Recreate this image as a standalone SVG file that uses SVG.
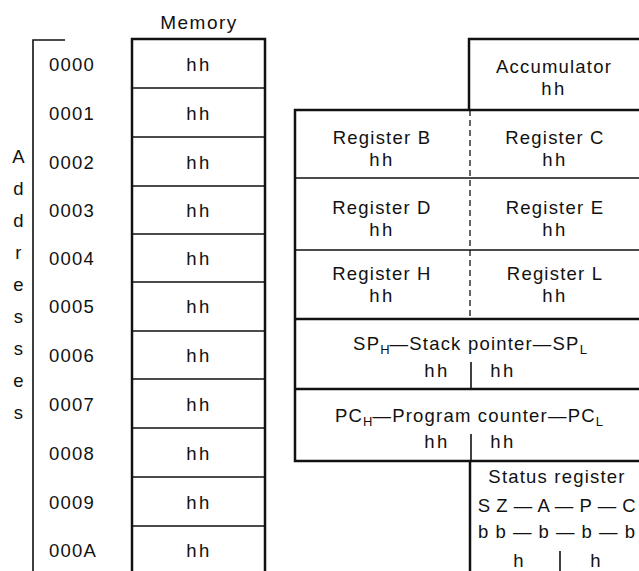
<svg xmlns="http://www.w3.org/2000/svg" width="639" height="571" viewBox="0 0 639 571">
<style>
text,tspan{font-family:"Liberation Sans",Arial,sans-serif;fill:#111}
text{font-size:18.5px;letter-spacing:1.2px}
.c{text-anchor:middle}
.hh{letter-spacing:2.5px}
.sub{font-size:13px;letter-spacing:0}
.thick{stroke:#111;stroke-width:2.5;fill:none}
.thin{stroke:#111;stroke-width:1.6;fill:none}
.dash{stroke:#111;stroke-width:1.3;stroke-dasharray:6 4;fill:none}
</style>
<rect width="639" height="571" fill="#fff"/>

<g id="addresses">
  <path class="thin" d="M65,40 H33 V571"/>
  <text x="19" y="163" class="c">A</text>
  <text x="19" y="195" class="c">d</text>
  <text x="19" y="227" class="c">d</text>
  <text x="19" y="259" class="c">r</text>
  <text x="19" y="291" class="c">e</text>
  <text x="19" y="323" class="c">s</text>
  <text x="19" y="355" class="c">s</text>
  <text x="19" y="387" class="c">e</text>
  <text x="19" y="419" class="c">s</text>
  <text x="49" y="71">0000</text>
  <text x="49" y="120">0001</text>
  <text x="49" y="169">0002</text>
  <text x="49" y="217">0003</text>
  <text x="49" y="265">0004</text>
  <text x="49" y="313">0005</text>
  <text x="49" y="362">0006</text>
  <text x="49" y="411">0007</text>
  <text x="49" y="460">0008</text>
  <text x="49" y="509">0009</text>
  <text x="49" y="557">000A</text>
</g>

<g id="memory">
  <text x="199" y="29" class="c" style="font-size:19px;letter-spacing:1.5px">Memory</text>
  <path class="thick" d="M132,571 V39 H265 V571"/>
  <path class="thin" d="M132,88 H265 M132,137 H265 M132,186 H265 M132,234 H265 M132,282 H265 M132,331 H265 M132,379 H265 M132,428 H265 M132,477 H265 M132,526 H265"/>
  <text x="199" y="71" class="c hh">hh</text>
  <text x="199" y="120" class="c hh">hh</text>
  <text x="199" y="169" class="c hh">hh</text>
  <text x="199" y="217" class="c hh">hh</text>
  <text x="199" y="265" class="c hh">hh</text>
  <text x="199" y="313" class="c hh">hh</text>
  <text x="199" y="362" class="c hh">hh</text>
  <text x="199" y="411" class="c hh">hh</text>
  <text x="199" y="460" class="c hh">hh</text>
  <text x="199" y="509" class="c hh">hh</text>
  <text x="199" y="557" class="c hh">hh</text>
</g>

<g id="accumulator">
  <path class="thick" d="M469,110 V39 H639"/>
  <text x="554" y="73" class="c">Accumulator</text>
  <text x="554" y="95" class="c hh">hh</text>
</g>

<g id="register-frame">
  <path class="thick" d="M639,110 H295 V461 H639"/>
  <path class="thin" d="M295,178 H639 M295,250 H639"/>
  <path class="thick" d="M295,319 H639 M295,389 H639"/>
  <path class="dash" d="M470,110 V319"/>
</g>

<g id="register-BC">
  <text x="382" y="144" class="c">Register B</text>
  <text x="382" y="166" class="c hh">hh</text>
  <text x="555" y="144" class="c">Register C</text>
  <text x="555" y="166" class="c hh">hh</text>
</g>

<g id="register-DE">
  <text x="382" y="214" class="c">Register D</text>
  <text x="382" y="236" class="c hh">hh</text>
  <text x="555" y="214" class="c">Register E</text>
  <text x="555" y="236" class="c hh">hh</text>
</g>

<g id="register-HL">
  <text x="382" y="280" class="c">Register H</text>
  <text x="382" y="302" class="c hh">hh</text>
  <text x="555" y="280" class="c">Register L</text>
  <text x="555" y="302" class="c hh">hh</text>
</g>

<g id="stack-pointer">
  <text x="470" y="350" class="c">SP<tspan class="sub" dy="4">H</tspan><tspan dy="-4">—Stack pointer—SP</tspan><tspan class="sub" dy="4">L</tspan></text>
  <text x="437" y="377" class="c hh">hh</text>
  <text x="503" y="377" class="c hh">hh</text>
  <path class="thin" d="M471,362 V389"/>
</g>

<g id="program-counter">
  <text x="469" y="422" class="c">PC<tspan class="sub" dy="4">H</tspan><tspan dy="-4">—Program counter—PC</tspan><tspan class="sub" dy="4">L</tspan></text>
  <text x="437" y="448" class="c hh">hh</text>
  <text x="503" y="448" class="c hh">hh</text>
  <path class="thin" d="M471,434 V461"/>
</g>

<g id="status-register">
  <path class="thick" d="M470,461 V571"/>
  <text x="557" y="483" class="c">Status register</text>
  <text x="557" y="512" class="c" style="letter-spacing:0.5px">S Z — A — P — C</text>
  <text x="557" y="538" class="c" style="letter-spacing:1px">b b — b — b — b</text>
  <text x="519" y="567" class="c">h</text>
  <text x="596" y="567" class="c">h</text>
  <path class="thin" d="M560,551 V571"/>
</g>
</svg>
